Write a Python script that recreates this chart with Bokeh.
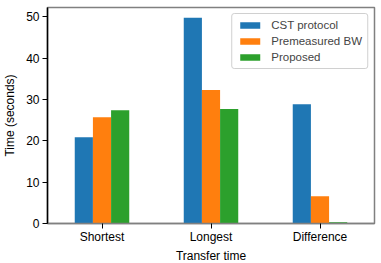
from bokeh.plotting import figure
from bokeh.models import ColumnDataSource, FixedTicker, Range1d, FactorRange, Legend, LegendItem, Title
from bokeh.transform import dodge
from bokeh.embed import file_html
from bokeh.resources import INLINE

categories = ["Shortest", "Longest", "Difference"]
cst_protocol = [20.9, 49.8, 28.9]
premeasured_bw = [25.7, 32.3, 6.6]
proposed = [27.4, 27.7, 0.3]
series_names = ["CST protocol", "Premeasured BW", "Proposed"]
colors = ["#1f77b4", "#ff7f0e", "#2ca02c"]
y_ticks = [0, 10, 20, 30, 40, 50]

FONT = "Liberation Sans"

src = ColumnDataSource(dict(cats=categories, cst=cst_protocol, pre=premeasured_bw, prop=proposed))

p = figure(width=381, height=263, x_range=FactorRange(*categories, range_padding=0),
           y_range=Range1d(0, 52.3), output_backend="svg", toolbar_location=None,
           min_border_left=42, min_border_right=7, min_border_top=7, min_border_bottom=40)

w = 1 / 6
renderers = []
for field, off, col in zip(["cst", "pre", "prop"], [-w, 0, w], colors):
    r = p.vbar(x=dodge("cats", off, range=p.x_range), top=field, width=w, source=src,
               fill_color=col, line_color=None)
    renderers.append(r)

legend = Legend(items=[LegendItem(label=n, renderers=[r]) for n, r in zip(series_names, renderers)],
                location="top_right")
legend.label_text_font = FONT
legend.label_text_font_size = "11.5px"
legend.glyph_width = 25
legend.glyph_height = 8
legend.label_height = 12
legend.spacing = 4
legend.padding = 5
legend.margin = 6
legend.label_standoff = 9
legend.border_line_color = "#d0d0d0"
legend.border_line_alpha = 1
legend.background_fill_alpha = 0.8
try:
    legend.border_radius = 3
except Exception:
    pass
p.add_layout(legend)

p.xgrid.visible = False
p.ygrid.visible = False
p.outline_line_color = "#808080"
p.outline_line_width = 1.5

p.yaxis.ticker = FixedTicker(ticks=y_ticks)
p.yaxis.axis_label = "Time (seconds)"
for ax in (p.xaxis, p.yaxis):
    ax.axis_label_text_font = FONT
    ax.axis_label_text_font_size = "12px"
    ax.axis_label_text_font_style = "normal"
    ax.major_label_text_font = FONT
    ax.major_label_text_font_size = "12px"
    ax.major_label_text_color = "black"
    ax.axis_label_text_color = "black"
    ax.major_tick_in = 0
    ax.major_tick_out = 5
    ax.minor_tick_in = 0
    ax.minor_tick_out = 0
    ax.major_tick_line_color = "black"
p.yaxis.major_label_standoff = 3
p.yaxis.axis_label_standoff = 6
p.xaxis.major_label_standoff = 1
p.yaxis.axis_line_color = "black"
p.yaxis.axis_line_width = 1.5
p.xaxis.axis_line_color = "#808080"
p.xaxis.axis_line_width = 1.5

xtitle = Title(text="Transfer time", align="center", text_font=FONT, text_font_size="12px",
               text_font_style="normal", text_color="black", standoff=0)
p.add_layout(xtitle, "below")

open("out.html", "w").write(file_html(p, INLINE))
